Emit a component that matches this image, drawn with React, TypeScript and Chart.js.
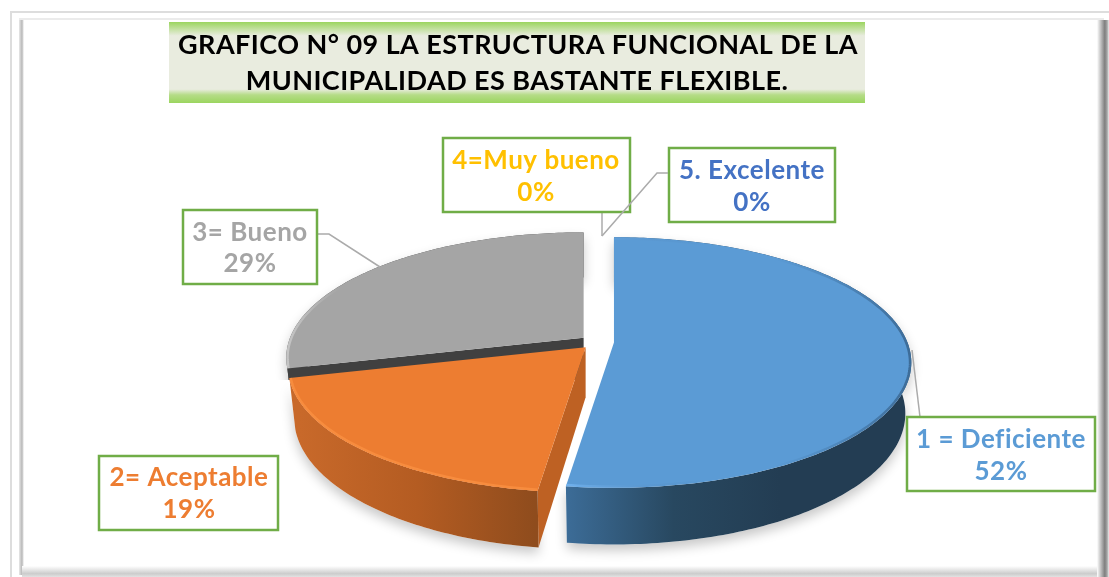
import React, { useEffect, useRef } from "react";
import { Chart, registerables } from "chart.js";

Chart.register(...registerables);

const categories = ["1 = Deficiente", "2= Aceptable", "3= Bueno", "4=Muy bueno", "5. Excelente"];
const percentages = [52.2, 18.9, 28.9, 0, 0];
const sliceColors = ["#5B9BD5", "#ED7D31", "#A5A5A5", "#FFC000", "#4472C4"];
const titleLines = ["GRAFICO N° 09 LA ESTRUCTURA FUNCIONAL DE LA", "MUNICIPALIDAD ES BASTANTE FLEXIBLE."];

const FONT = "Lato, 'Open Sans', sans-serif";
const K = 0.16; // perspective strength
const SQUASH = 0.416; // vertical foreshortening of the disc
const DEPTH = 50;
const BASE_SHRINK = 0.98;

// label boxes: x0, y0, x1, y1, centre x, line 1 y, line 2 y
const boxes = [
  [907, 417, 1095, 491, 1001, 440, 472],
  [99, 456, 278, 530, 189, 478, 510],
  [183, 210, 317, 284, 250, 233, 264],
  [443, 138, 630, 212, 536, 161, 193],
  [669, 148, 835, 222, 752, 171, 203],
];

const sideStyle = [
  { stops: ["#3C6C97", "#284860", "#233D53"], x0: 567, x1: 780, cut: "" },
  { stops: ["#C8692A", "#B45C22", "#8F4C1D"], x0: 300, x1: 535, cut: "#BE6123" },
  { stops: ["#404040", "#404040", "#404040"], x0: 288, x1: 584, cut: "#404040" },
];

function project(arc: any, angle: number, radiusFrac: number, offset: number, bottom: boolean) {
  const R = arc.outerRadius;
  const mid = (arc.startAngle + arc.endAngle) / 2;
  const X = Math.cos(angle) * radiusFrac;
  const Y = Math.sin(angle) * radiusFrac;
  const s = 1 / (1 - K * Y);
  const f = bottom ? BASE_SHRINK : 1;
  return {
    x: arc.x + Math.cos(mid) * offset + X * R * s * f,
    y: arc.y + Math.sin(mid) * offset * SQUASH + Y * R * SQUASH * s * f + (bottom ? DEPTH * s : 0),
  };
}

function rimPoints(arc: any, a0: number, a1: number, offset: number, bottom: boolean) {
  const n = Math.max(2, Math.ceil(Math.abs(a1 - a0) * 60));
  const pts = [];
  for (let i = 0; i <= n; i++) {
    pts.push(project(arc, a0 + ((a1 - a0) * i) / n, 1, offset, bottom));
  }
  return pts;
}

function polygon(ctx: CanvasRenderingContext2D, pts: { x: number; y: number }[]) {
  ctx.beginPath();
  pts.forEach((p, i) => (i ? ctx.lineTo(p.x, p.y) : ctx.moveTo(p.x, p.y)));
  ctx.closePath();
}

const pie3d = {
  id: "pie3d",
  beforeDraw(chart: any) {
    const ctx: CanvasRenderingContext2D = chart.ctx;
    ctx.save();
    ctx.fillStyle = "#FFFFFF";
    ctx.fillRect(0, 0, chart.width, chart.height);
    // outer pale frame
    ctx.strokeStyle = "#DDDDDD";
    ctx.lineWidth = 2;
    ctx.beginPath();
    ctx.moveTo(1109, 12);
    ctx.lineTo(11, 12);
    ctx.lineTo(11, 577);
    ctx.stroke();
    // inner frame shadows
    let g = ctx.createLinearGradient(19, 0, 24, 0);
    g.addColorStop(0, "#E8E8E8");
    g.addColorStop(0.6, "#B8B8B8");
    g.addColorStop(1, "#FFFFFF");
    ctx.fillStyle = g;
    ctx.fillRect(19, 20, 5, 555);
    ctx.fillStyle = "#EBEBEB";
    ctx.fillRect(19, 18, 1085, 2);
    g = ctx.createLinearGradient(0, 566, 0, 577);
    g.addColorStop(0, "#FFFFFF");
    g.addColorStop(0.7, "#CCCCCC");
    g.addColorStop(1, "#E2E2E2");
    ctx.fillStyle = g;
    ctx.fillRect(22, 566, 1080, 11);
    g = ctx.createLinearGradient(1097, 0, 1109, 0);
    g.addColorStop(0, "#FFFFFF");
    g.addColorStop(0.65, "#7E7E7E");
    g.addColorStop(0.85, "#A8A8A8");
    g.addColorStop(1, "#EEEEEE");
    ctx.fillStyle = g;
    ctx.fillRect(1097, 20, 12, 557);
    // title band
    g = ctx.createLinearGradient(0, 22, 0, 103);
    g.addColorStop(0, "#9BD55F");
    g.addColorStop(0.17, "#E9ECDF");
    g.addColorStop(0.83, "#E9ECDF");
    g.addColorStop(0.9, "#B5DC87");
    g.addColorStop(1, "#9BD55F");
    ctx.fillStyle = g;
    ctx.fillRect(169, 22, 696, 81);
    ctx.fillStyle = "#000000";
    ctx.font = `bold 27px ${FONT}`;
    (ctx as any).letterSpacing = "0.45px";
    ctx.textAlign = "center";
    ctx.textBaseline = "middle";
    ctx.fillText(titleLines[0], 518, 45);
    ctx.fillText(titleLines[1], 517, 81);
    ctx.restore();
  },
  beforeDatasetsDraw(chart: any) {
    const ctx: CanvasRenderingContext2D = chart.ctx;
    const arcs = chart.getDatasetMeta(0).data;
    ctx.save();
    // back to front: gray, orange, blue
    [2, 1, 0].forEach((i) => {
      const arc = arcs[i];
      const off = arc.options.offset;
      const st = sideStyle[i];
      const topRim = rimPoints(arc, arc.startAngle, arc.endAngle, off, false);
      const botRim = rimPoints(arc, arc.startAngle, arc.endAngle, off, true);
      const apexTop = project(arc, 0, 0, off, false);
      const apexBot = project(arc, 0, 0, off, true);
      ctx.save();
      if (i === 2) {
        // only the thin edge of the gray slice shows above the orange one
        ctx.beginPath();
        ctx.rect(0, 0, chart.width, 380);
        ctx.clip();
      }
      // soft cast shadow
      ctx.save();
      ctx.shadowColor = "rgba(0,0,0,0.22)";
      ctx.shadowBlur = 12;
      ctx.shadowOffsetY = 6;
      ctx.fillStyle = "#FFFFFF";
      polygon(ctx, [...topRim, ...botRim.slice().reverse()]);
      ctx.fill();
      ctx.restore();
      // cut face at the start of the slice, where it is visible
      if (st.cut) {
        ctx.fillStyle = st.cut;
        polygon(ctx, [apexTop, topRim[0], botRim[0], apexBot]);
        ctx.fill();
      }
      // rim wall
      const g = ctx.createLinearGradient(st.x0, 0, st.x1, 0);
      st.stops.forEach((c, j) => g.addColorStop(j / 2, c));
      ctx.fillStyle = g;
      polygon(ctx, [...topRim, ...botRim.slice().reverse()]);
      ctx.fill();
      ctx.restore();
      // top face
      ctx.fillStyle = arc.options.backgroundColor;
      polygon(ctx, [apexTop, ...topRim]);
      ctx.fill();
      // bevel on the visible edge
      ctx.save();
      polygon(ctx, [apexTop, ...topRim]);
      ctx.clip();
      let bevel: any;
      if (i === 1) {
        bevel = "#F78C3E";
      } else if (i === 0) {
        bevel = ctx.createLinearGradient(567, 0, 912, 0);
        bevel.addColorStop(0, "rgba(120,185,245,0.7)");
        bevel.addColorStop(0.4, "rgba(70,120,170,0.0)");
        bevel.addColorStop(0.6, "rgba(40,80,120,0.0)");
        bevel.addColorStop(1, "rgba(30,60,90,0.5)");
      } else {
        bevel = ctx.createLinearGradient(288, 0, 340, 0);
        bevel.addColorStop(0, "rgba(255,255,255,0.35)");
        bevel.addColorStop(1, "rgba(255,255,255,0)");
      }
      ctx.strokeStyle = bevel;
      ctx.lineWidth = 5;
      ctx.beginPath();
      topRim.forEach((p, j) => (j ? ctx.lineTo(p.x, p.y) : ctx.moveTo(p.x, p.y)));
      ctx.stroke();
      ctx.restore();
    });
    ctx.restore();
    return false; // native flat arcs are replaced by the projected ones
  },
  afterDraw(chart: any) {
    const ctx: CanvasRenderingContext2D = chart.ctx;
    ctx.save();
    // leader lines
    ctx.strokeStyle = "#ABABAB";
    ctx.lineWidth = 1.5;
    const leaders = [
      [[912, 350], [920, 417]],
      [[318, 234], [329, 234], [380, 267]],
      [[602, 212], [602, 236]],
    ];
    leaders.forEach((l) => {
      ctx.beginPath();
      l.forEach((p, i) => (i ? ctx.lineTo(p[0], p[1]) : ctx.moveTo(p[0], p[1])));
      ctx.stroke();
    });
    // boxes and labels
    boxes.forEach((b, i) => {
      ctx.fillStyle = "#FFFFFF";
      ctx.fillRect(b[0], b[1], b[2] - b[0], b[3] - b[1]);
      ctx.strokeStyle = "#70AD47";
      ctx.lineWidth = 2.5;
      ctx.strokeRect(b[0], b[1], b[2] - b[0], b[3] - b[1]);
      ctx.fillStyle = sliceColors[i];
      ctx.font = `bold 26px ${FONT}`;
      (ctx as any).letterSpacing = "0.5px";
      ctx.textAlign = "center";
      ctx.textBaseline = "middle";
      ctx.fillText(categories[i], b[4], b[5]);
      ctx.fillText(`${Math.round(percentages[i])}%`, b[4], b[6]);
    });
    // leader of the last label crosses over the neighbouring box
    ctx.strokeStyle = "#ABABAB";
    ctx.lineWidth = 1.5;
    ctx.beginPath();
    ctx.moveTo(668, 173);
    ctx.lineTo(657, 173);
    ctx.lineTo(602, 236);
    ctx.stroke();
    ctx.restore();
  },
};

export default function App() {
  const ref = useRef<HTMLCanvasElement | null>(null);
  useEffect(() => {
    const chart = new Chart(ref.current as HTMLCanvasElement, {
      type: "pie",
      data: {
        labels: categories,
        datasets: [
          {
            data: percentages,
            backgroundColor: sliceColors,
            borderWidth: 0,
            offset: 17,
          },
        ],
      },
      options: {
        responsive: false,
        animation: false,
        radius: 293.5,
        layout: { padding: { left: 85, top: 107 } },
        plugins: { legend: { display: false }, tooltip: { enabled: false } },
      } as any,
      plugins: [pie3d],
    });
    return () => chart.destroy();
  }, []);
  return (
    <div style={{ position: "absolute", left: 0, top: 0, width: 1109, height: 577 }}>
      <canvas ref={ref} width={1109} height={577} style={{ display: "block" }} />
    </div>
  );
}
